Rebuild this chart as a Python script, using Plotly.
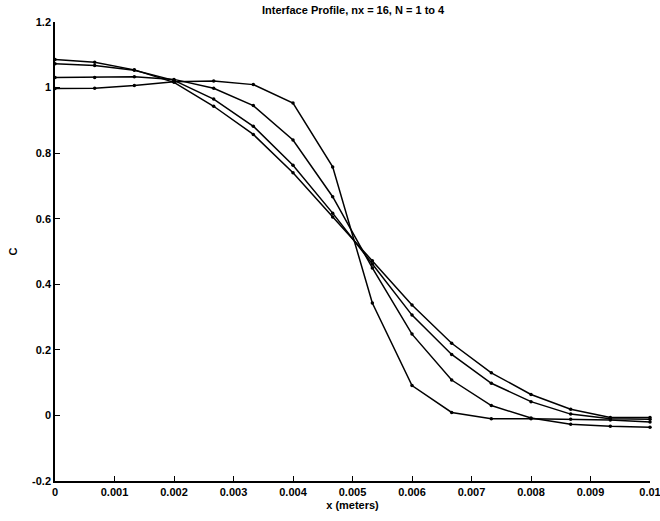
import plotly.graph_objects as go

x_m = [i * 0.01 / 15 for i in range(16)]

c_n1 = [0.997, 0.998, 1.006, 1.018, 1.020, 1.009, 0.953, 0.758, 0.343, 0.091, 0.009, -0.010, -0.010, -0.012, -0.014, -0.020]
c_n2 = [1.031, 1.031, 1.033, 1.025, 0.998, 0.945, 0.840, 0.667, 0.450, 0.248, 0.108, 0.030, -0.008, -0.027, -0.033, -0.036]
c_n3 = [1.073, 1.067, 1.053, 1.022, 0.965, 0.882, 0.763, 0.617, 0.462, 0.306, 0.186, 0.098, 0.042, 0.004, -0.010, -0.012]
c_n4 = [1.086, 1.077, 1.054, 1.016, 0.943, 0.857, 0.740, 0.605, 0.472, 0.337, 0.220, 0.130, 0.064, 0.019, -0.006, -0.006]

x_ticks = [0, 0.001, 0.002, 0.003, 0.004, 0.005, 0.006, 0.007, 0.008, 0.009, 0.01]
x_tick_labels = ["0", "0.001", "0.002", "0.003", "0.004", "0.005", "0.006", "0.007", "0.008", "0.009", "0.01"]
y_ticks = [-0.2, 0, 0.2, 0.4, 0.6, 0.8, 1, 1.2]
y_tick_labels = ["-0.2", "0", "0.2", "0.4", "0.6", "0.8", "1", "1.2"]

series = [c_n1, c_n2, c_n3, c_n4]

font_family = "Liberation Sans, Arial, sans-serif"

fig = go.Figure()
for ys in series:
    fig.add_trace(go.Scatter(
        x=x_m, y=ys, mode="lines+markers",
        line=dict(color="black", width=1.5),
        marker=dict(color="black", size=3.5),
        showlegend=False, cliponaxis=False,
    ))

fig.update_layout(
    width=660, height=521,
    paper_bgcolor="white", plot_bgcolor="white",
    margin=dict(l=55, r=10, t=22, b=40, autoexpand=False),
    font=dict(family=font_family, size=11, color="black", weight="bold"),
    title=dict(text="Interface Profile, nx = 16, N = 1 to 4", x=0.535, xanchor="center",
               y=0.988, yanchor="top", font=dict(size=11, family=font_family, weight="bold")),
    xaxis=dict(
        range=[0, 0.01], tickvals=x_ticks, ticktext=x_tick_labels,
        showgrid=False, zeroline=False, showline=True, linecolor="black", linewidth=1.5,
        ticks="inside", ticklen=5, tickcolor="black", tickwidth=1, automargin=False,
        ticklabeloverflow="allow",
        title=dict(text="x (meters)", standoff=4, font=dict(size=11)),
    ),
    yaxis=dict(
        range=[-0.2, 1.2], tickvals=y_ticks, ticktext=y_tick_labels,
        showgrid=False, zeroline=False, showline=True, linecolor="black", linewidth=1.5,
        ticks="inside", ticklen=5, tickcolor="black", tickwidth=1, automargin=False,
        ticklabeloverflow="allow",
        title=dict(text="C", standoff=12, font=dict(size=11)),
    ),
)

fig.write_html("out.html", config={"displayModeBar": False},
               post_script="document.body.style.margin='0';")
